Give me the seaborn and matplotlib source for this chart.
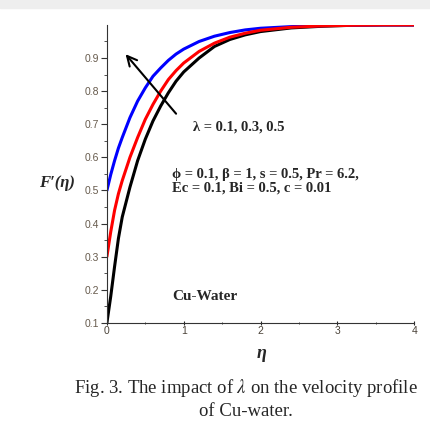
import numpy as np
import pandas as pd
import seaborn as sns
import matplotlib
matplotlib.use("Agg")
from matplotlib import pyplot as plt
from matplotlib.patches import Rectangle

# values
eta = [0, 0.05, 0.1, 0.15, 0.2, 0.3, 0.4, 0.5, 0.6, 0.7, 0.8, 0.9, 1.0,
       1.2, 1.4, 1.6, 1.8, 2.0, 2.4, 2.8, 3.2, 3.6, 4.0]
f_lam01 = [0.10, 0.18, 0.27, 0.355, 0.42, 0.51, 0.59, 0.655, 0.71, 0.755, 0.795, 0.83, 0.858,
           0.90, 0.935, 0.956, 0.97, 0.98, 0.991, 0.996, 0.999, 1.0, 1.0]
f_lam03 = [0.30, 0.375, 0.44, 0.49, 0.53, 0.60, 0.66, 0.715, 0.76, 0.80, 0.835, 0.862, 0.885,
           0.92, 0.945, 0.963, 0.975, 0.984, 0.993, 0.997, 0.999, 1.0, 1.0]
f_lam05 = [0.50, 0.548, 0.59, 0.628, 0.66, 0.72, 0.77, 0.81, 0.845, 0.87, 0.893, 0.912, 0.927,
           0.95, 0.966, 0.977, 0.985, 0.99, 0.995, 0.998, 0.999, 1.0, 1.0]
lam_labels = ["0.1", "0.3", "0.5"]
colors = {"0.1": "black", "0.3": "#ff0000", "0.5": "#0000ff"}

df = pd.concat([
    pd.DataFrame({"eta": eta, "F": f, "lam": lab})
    for f, lab in zip([f_lam01, f_lam03, f_lam05], lam_labels)
])

sns.set_style("ticks")
plt.rcParams["font.family"] = ["Liberation Serif", "DejaVu Serif"]
plt.rcParams["mathtext.fontset"] = "stix"

fig = plt.figure(figsize=(4.31, 4.30), dpi=100)
fig.patches.append(Rectangle((0, 0.982), 1, 0.018, transform=fig.transFigure,
                             color="#eeeeee", zorder=0))
ax = fig.add_axes([0.248, 0.249, 0.713, 0.693])

sns.lineplot(data=df, x="eta", y="F", hue="lam", hue_order=["0.1", "0.5", "0.3"],
             palette=colors, estimator=None, sort=False, legend=False, lw=2.2, ax=ax)

ax.set_xlim(0, 4)
ax.set_ylim(0.1, 1.0)
ax.set_xticks([0, 1, 2, 3, 4])
ax.set_xticks([0.5, 1.5, 2.5, 3.5], minor=True)
ax.set_yticks([0.1, 0.2, 0.3, 0.4, 0.5, 0.6, 0.7, 0.8, 0.9])
ax.set_yticks(np.arange(0.15, 1.0, 0.1), minor=True)
ax.set_yticklabels(["0.1", "0.2", "0.3", "0.4", "0.5", "0.6", "0.7", "0.8", "0.9"])
for lab in ax.get_yticklabels() + ax.get_xticklabels():
    lab.set_family(["Liberation Sans", "DejaVu Sans"])
ax.tick_params(axis="y", which="major", length=4, width=0.8, labelsize=7.5, colors="#333",
               labelcolor="#665a4c", pad=1.5)
ax.tick_params(axis="y", which="minor", length=2.5, width=0.6, colors="#333")
ax.tick_params(axis="x", which="major", length=3, width=0.8, direction="inout",
               labelsize=7.5, labelcolor="#4a4238", pad=1)
ax.tick_params(axis="x", which="minor", length=2, width=0.6, direction="inout")
sns.despine(ax=ax)
ax.spines["left"].set_color("#333")
ax.spines["bottom"].set_color("#333")
ax.set_xlabel("")
ax.set_ylabel("")

fig.text(0.132, 0.575, "F′(η)", fontsize=12, fontweight="bold", fontstyle="italic",
         ha="center", va="center")
fig.text(0.606, 0.177, "η", fontsize=13, fontweight="bold", fontstyle="italic",
         ha="center", va="center")

ax.annotate("", xy=(0.055, 0.909), xytext=(0.231, 0.695), xycoords="axes fraction",
            arrowprops=dict(arrowstyle="->,head_length=0.7,head_width=0.35", lw=1.5, color="black"))
ax.text(0.28, 0.658, "λ = 0.1, 0.3, 0.5", transform=ax.transAxes, fontsize=10.5,
        fontweight="bold", va="center")
ax.text(0.212, 0.497, "ϕ = 0.1, β = 1, s = 0.5, Pr = 6.2,", transform=ax.transAxes,
        fontsize=10.5, fontweight="bold", va="center")
ax.text(0.212, 0.453, "Ec = 0.1, Bi = 0.5, c = 0.01", transform=ax.transAxes,
        fontsize=10.5, fontweight="bold", va="center")
ax.text(0.212, 0.09, "Cu-Water", transform=ax.transAxes, fontsize=11,
        fontweight="bold", va="center")

fig.text(0.57, 0.098, r"Fig. 3. The impact of $\mathit{\lambda}$ on the velocity profile",
         fontsize=13.5, ha="center", va="center")
fig.text(0.57, 0.042, "of Cu-water.", fontsize=13.5, ha="center", va="center")

fig.savefig("out.png", dpi=100)
